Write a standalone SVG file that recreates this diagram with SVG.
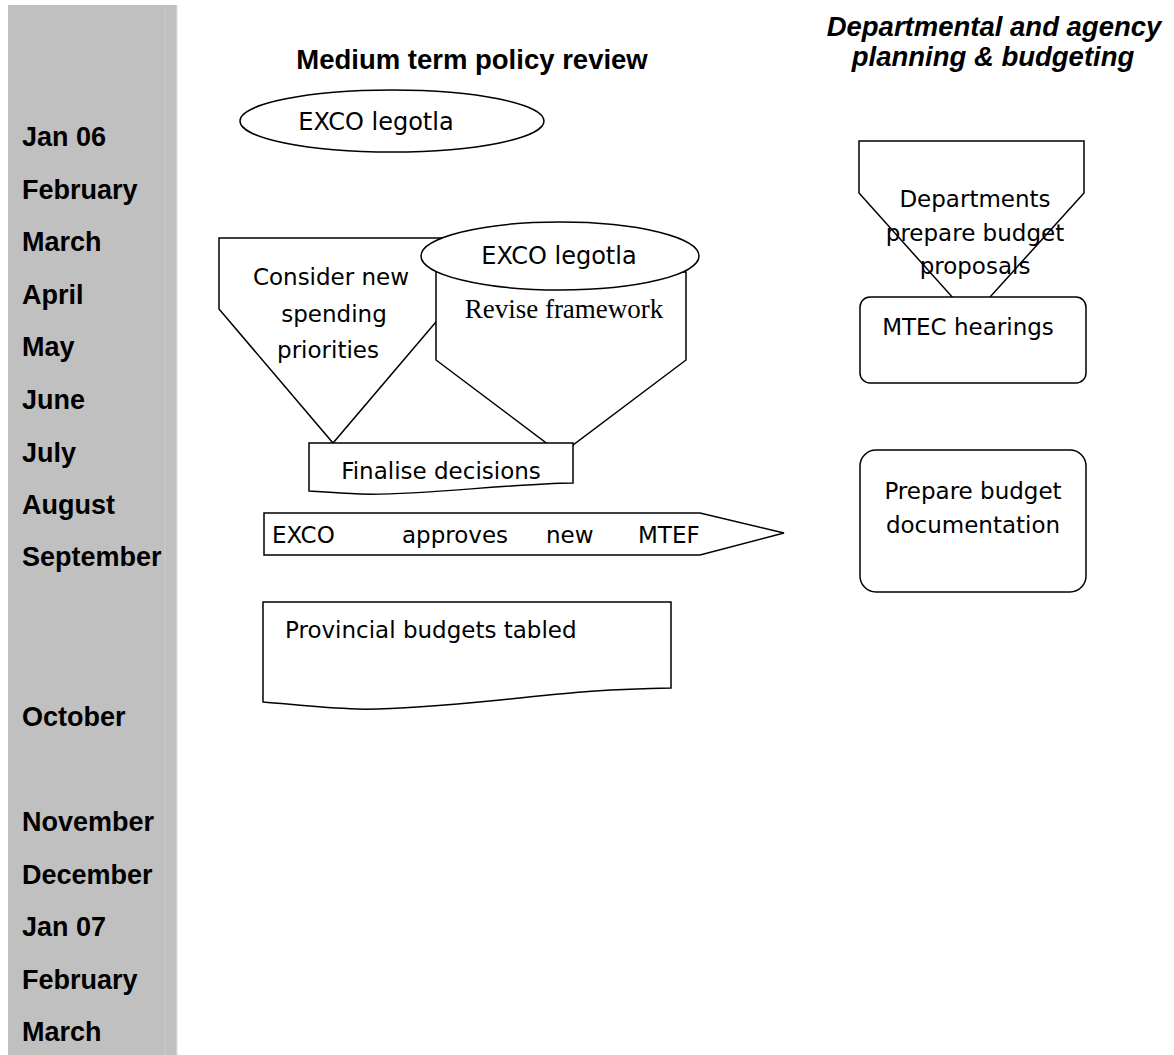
<svg xmlns="http://www.w3.org/2000/svg" width="1174" height="1055" viewBox="0 0 1174 1055">
<style>
.month{font-family:"Liberation Sans",Arial,sans-serif;font-weight:bold;font-size:27px;fill:#000}
.head{font-family:"Liberation Sans",Arial,sans-serif;font-weight:bold;font-size:27.5px;fill:#000}
.headi{font-family:"Liberation Sans",Arial,sans-serif;font-weight:bold;font-style:italic;font-size:27.5px;fill:#000}
.c{font-family:"DejaVu Sans","Noto Sans",sans-serif;font-size:23px;fill:#000}
.e{font-size:24px}
.t{font-family:"Liberation Serif","Times New Roman",serif;font-size:27px;fill:#000}
.s{fill:#fff;stroke:#000;stroke-width:1.5}
</style>
<g id="sidebar">
<rect x="8" y="5" width="169" height="1050" fill="#c0c0c0"/>
<line x1="165" y1="5" x2="165" y2="1055" stroke="#cbcbcb" stroke-width="1"/>
<line x1="177" y1="5" x2="177" y2="1055" stroke="#e0e0e0" stroke-width="1"/>
<text class="month" x="22" y="146">Jan 06</text>
<text class="month" x="22" y="199">February</text>
<text class="month" x="22" y="251">March</text>
<text class="month" x="22" y="304">April</text>
<text class="month" x="22" y="356">May</text>
<text class="month" x="22" y="409">June</text>
<text class="month" x="22" y="462">July</text>
<text class="month" x="22" y="514">August</text>
<text class="month" x="22" y="566">September</text>
<text class="month" x="22" y="726">October</text>
<text class="month" x="22" y="831">November</text>
<text class="month" x="22" y="884">December</text>
<text class="month" x="22" y="936">Jan 07</text>
<text class="month" x="22" y="989">February</text>
<text class="month" x="22" y="1041">March</text>
</g>
<g id="headers">
<text class="head" x="472" y="69" text-anchor="middle">Medium term policy review</text>
<text class="headi" x="994" y="36" text-anchor="middle">Departmental and agency</text>
<text class="headi" x="993" y="66" text-anchor="middle">planning &amp; budgeting</text>
</g>
<g id="connectors"></g>
<g id="exco1">
<ellipse class="s" cx="392" cy="121" rx="152" ry="31"/>
<text class="c e" x="376" y="130" text-anchor="middle">EXCO legotla</text>
</g>
<g id="consider">
<polygon class="s" points="219,238 447,238 447,309 333,443 219,309"/>
<text class="c" x="331" y="285" text-anchor="middle">Consider new</text>
<text class="c" x="334" y="322" text-anchor="middle">spending</text>
<text class="c" x="328" y="358" text-anchor="middle">priorities</text>
</g>
<g id="revise">
<polygon class="s" points="436,272 686,272 686,360 561,454 436,360"/>
<text class="t" x="564" y="318" text-anchor="middle">Revise framework</text>
</g>
<g id="exco2">
<ellipse class="s" cx="560" cy="256" rx="139" ry="34"/>
<text class="c e" x="559" y="264" text-anchor="middle">EXCO legotla</text>
</g>
<g id="finalise">
<path class="s" d="M309,443 H573 V483 C500,484 420,496 360,494 C340,493 325,492 309,491 Z"/>
<text class="c" x="441" y="479" text-anchor="middle">Finalise decisions</text>
</g>
<g id="approves">
<polygon class="s" points="264,513 700,513 784,533 700,555 264,555"/>
<text class="c" x="272" y="543">EXCO</text>
<text class="c" x="402" y="543">approves</text>
<text class="c" x="546" y="543">new</text>
<text class="c" x="638" y="543">MTEF</text>
</g>
<g id="tabled">
<path class="s" d="M263,602 H671 V688 C600,689 560,694 500,700 C430,707 390,710 357,709 C320,708 290,704 263,702 Z"/>
<text class="c" x="285" y="638">Provincial budgets tabled</text>
</g>
<g id="departments">
<polygon class="s" points="859,141 1084,141 1084,193 971,318 859,193"/>
<text class="c" x="975" y="207" text-anchor="middle">Departments</text>
<text class="c" x="975" y="241" text-anchor="middle">prepare budget</text>
<text class="c" x="975" y="274" text-anchor="middle">proposals</text>
</g>
<g id="mtec">
<rect class="s" x="860" y="297" width="226" height="86" rx="10"/>
<text class="c" x="968" y="335" text-anchor="middle">MTEC hearings</text>
</g>
<g id="prepare">
<rect class="s" x="860" y="450" width="226" height="142" rx="16"/>
<text class="c" x="973" y="499" text-anchor="middle">Prepare budget</text>
<text class="c" x="973" y="533" text-anchor="middle">documentation</text>
</g>
</svg>
